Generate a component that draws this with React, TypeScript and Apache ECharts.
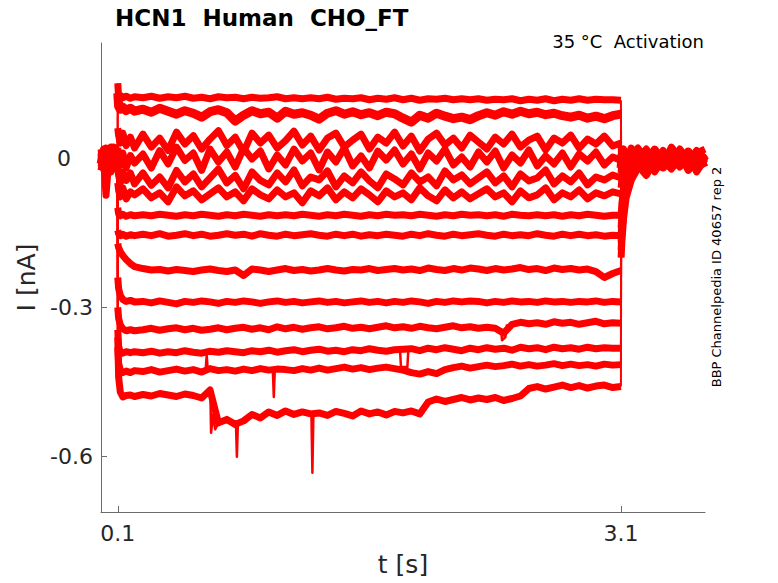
import React, { useEffect, useRef } from "react";
import * as echarts from "echarts";

// time base (s)
const T = [
  0, 0.015, 0.03, 0.045, 0.06, 0.075, 0.09, 0.099,
  0.1, 0.105, 0.115, 0.13, 0.15, 0.175, 0.2,
  0.25, 0.3, 0.35, 0.4, 0.45, 0.5, 0.55, 0.6, 0.65, 0.7, 0.75,
  0.8, 0.85, 0.9, 0.95, 1.0, 1.05, 1.1, 1.15, 1.2, 1.25,
  1.3, 1.35, 1.4, 1.45, 1.5, 1.55, 1.6, 1.65, 1.7, 1.75,
  1.8, 1.85, 1.9, 1.95, 2.0, 2.05, 2.1, 2.15, 2.2, 2.25,
  2.3, 2.35, 2.4, 2.45, 2.5, 2.55, 2.6, 2.65, 2.7, 2.75,
  2.8, 2.85, 2.9, 2.95, 3.0, 3.05,
  3.099,
  3.1, 3.105, 3.115, 3.13, 3.16, 3.2, 3.25, 3.3, 3.35, 3.4, 3.45, 3.5, 3.55, 3.6,
];
// indices in T where the voltage step switches on / off
const stepOnIndex = 8;
const stepOffIndex = 73;

// currents in pA (one value per entry of T)
const traceA = [
  5, -10, 15, -5, 20, 0, -15, 10,
  150, 122, 126, 121, 124, 120, 123,
  121, 124, 120, 123, 121, 124, 120, 122, 119, 123, 121,
  122, 119, 122, 120, 121, 123, 119, 121, 119, 121,
  119, 122, 118, 120, 119, 121, 117, 120, 118, 121,
  117, 120, 116, 119, 118, 120, 117, 119, 117, 119,
  116, 118, 117, 119, 115, 118, 116, 119, 115, 118,
  116, 119, 116, 118, 117, 117,
  116,
  10, -5, 12, -8, 15, 0, 18, -10, 8, -15, 14, -5, 10, 0,
];
const traceB = [
  -12, 8, -20, 5, -8, 15, -3, -10,
  130, 104, 98, 102, 95, 100, 94,
  98, 92, 100, 94, 88, 95, 90, 82, 93, 97, 91,
  74, 86, 95, 89, 92, 80, 94, 88, 91, 86,
  78, 90, 95, 88, 93, 87, 91, 85, 92, 89,
  80, 72, 86, 80, 90, 84, 79, 82, 77, 85,
  91, 86, 93, 88, 94, 89, 92, 87, 90, 85,
  82, 86, 80, 84, 79, 85,
  88,
  -20, 5, -12, 10, -25, 8, -5, 15, -18, 3, -10, 12, -22, 5,
];
const traceC = [
  18, -5, 10, -15, 22, 3, -8, 12,
  60, 45, 30, 50, 25, 42, 20,
  48, 22, 40, 15, 52, 28, 45, 18, 38, 55, 25,
  42, 12, 50, 30, 46, 20, 35, 54, 26, 44,
  16, 40, 50, 22, 36, 48, 18, 42, 30, 52,
  24, 44, 14, 38, 50, 26, 40, 20, 46, 32,
  18, 42, 28, 48, 22, 36, 44, 16, 40, 30,
  46, 20, 38, 28, 44, 24,
  30,
  25, -10, 18, -20, 8, 20, -5, 15, -12, 22, 0, -15, 10, 18,
];
const traceD = [
  -8, 15, -20, 8, -12, 20, 5, -18,
  20, 5, -15, 10, -20, 5, -10,
  8, -20, 15, -12, 22, -5, 10, -25, 18, -8, 12,
  -18, 20, -2, 14, -22, 6, -14, 18, -6, 10,
  -24, 12, -8, 20, -16, 4, -20, 14, -4, 16,
  -12, 8, -22, 10, -6, 18, -14, 2, -18, 12,
  -8, 14, -20, 6, -10, 16, -16, 4, -12, 10,
  -18, 8, -6, 12, -14, 2,
  -5,
  -15, 10, -25, 5, -10, 15, -20, 2, -8, 12, -18, 6, -12, 8,
];
const traceE = [
  3, -22, 10, -30, 0, -12, 15, -25,
  -20, -35, -50, -28, -45, -30, -52,
  -30, -55, -38, -60, -25, -48, -32, -58, -40, -22, -50,
  -35, -62, -28, -45, -54, -30, -48, -24, -56, -38,
  -44, -26, -58, -36, -50, -28, -46, -60, -32, -42,
  -54, -30, -48, -38, -56, -26, -44, -34, -52, -40,
  -28, -50, -36, -58, -32, -46, -40, -24, -52, -36,
  -48, -30, -54, -38, -44, -34,
  -40,
  -30, -5, -20, 10, -35, -10, 5, -28, -2, -15, 8, -25, -8, 3,
];
const traceF = [
  -25, 0, -75, -10, 10, -20, -5, 0,
  -50, -65, -78, -60, -82, -68, -74,
  -62, -80, -70, -88, -58, -76, -66, -84, -72, -60, -78,
  -68, -86, -62, -74, -82, -64, -78, -70, -90, -66,
  -76, -60, -84, -68, -80, -62, -74, -88, -66, -78,
  -70, -84, -60, -76, -86, -64, -80, -68, -82, -72,
  -62, -78, -70, -88, -66, -80, -74, -60, -84, -70,
  -78, -64, -82, -70, -76, -68,
  -72,
  -10, -30, 0, -22, 12, -15, -35, -5, 15, -20, -8, 10, -28, -2,
];
const traceG = [
  10, -15, 0, 18, -10, 5, -22, 8,
  -100, -112, -116, -113, -117, -114, -116,
  -114, -116, -113, -115, -117, -114, -116, -113, -115, -117, -114,
  -116, -113, -115, -117, -114, -116, -114, -116, -113, -115,
  -117, -114, -116, -113, -115, -117, -114, -116, -113, -115,
  -114, -116, -113, -115, -117, -114, -116, -113, -115, -114,
  -116, -114, -117, -113, -115, -116, -114, -116, -114, -117,
  -114, -116, -113, -115, -117, -115,
  -115,
  5, -20, 12, -8, 20, -15, 3, -25, 10, -5, 16, -12, 0, 8,
];
const traceH = [
  -18, 5, -10, 12, -28, -2, 8, -15,
  -145, -152, -156, -153, -157, -154, -156,
  -153, -156, -152, -157, -155, -152, -156, -153, -157, -155, -152,
  -155, -153, -157, -152, -155, -157, -153, -156, -154, -152,
  -155, -157, -153, -156, -153, -157, -154, -156, -153, -155,
  -157, -153, -156, -152, -155, -157, -153, -156, -154, -152,
  -155, -157, -153, -156, -154, -156, -152, -155, -157, -153,
  -156, -153, -156, -154, -157, -155,
  -156,
  -60, -40, -20, 5, -18, 8, -12, 18, -5, -22, 10, -8, 15, -18,
];
const traceI = [
  12, -6, 20, -12, 2, 15, -20, 5,
  -172, -180, -188, -196, -204, -212, -218,
  -222, -225, -224, -227, -224, -226, -228, -225, -223, -226, -228,
  -225, -236, -223, -225, -228, -225, -222, -226, -224, -227,
  -225, -222, -225, -227, -224, -225, -222, -226, -224, -222,
  -225, -223, -226, -221, -224, -226, -222, -225, -221, -223,
  -226, -222, -225, -223, -220, -224, -222, -226, -221, -224,
  -222, -225, -223, -228, -240, -232,
  -226,
  -115, -90, -62, -38, -15, 5, -18, 10, -6, 15, -12, 4, -20, 6,
];
const traceJ = [
  -5, 18, -14, 6, -25, 10, -2, 15,
  -240, -262, -276, -284, -288, -286, -289,
  -288, -291, -287, -290, -293, -288, -290, -287, -289, -292, -288,
  -290, -287, -289, -292, -289, -287, -290, -288, -291, -289,
  -287, -290, -288, -291, -289, -287, -290, -288, -291, -288,
  -290, -287, -289, -292, -288, -290, -287, -289, -287, -288,
  -291, -288, -290, -287, -289, -288, -290, -287, -289, -288,
  -290, -288, -289, -287, -290, -288,
  -289,
  -140, -112, -80, -48, -20, -2, 12, -15, 5, -10, 18, -6, 8, -4,
];
const traceK = [
  8, -12, 4, -22, 15, -8, 20, -4,
  -300, -322, -335, -343, -347, -345, -347,
  -345, -342, -346, -343, -341, -345, -342, -346, -344, -341, -345,
  -342, -340, -344, -341, -345, -339, -343, -340, -344, -341,
  -339, -343, -341, -338, -342, -340, -343, -340, -337, -341,
  -339, -342, -338, -341, -343, -340, -337, -341, -339, -342,
  -340, -342, -352, -334, -330, -333, -331, -334, -329, -332,
  -330, -334, -331, -328, -333, -331,
  -332,
  -155, -125, -88, -55, -25, -5, 10, -14, 6, -8, 16, -3, -12, 5,
];
const traceL = [
  15, -2, -18, 10, -6, 22, -12, 3,
  -345, -378, -390, -392, -389, -391, -389,
  -391, -388, -392, -389, -391, -387, -390, -392, -388, -390, -387,
  -389, -391, -387, -389, -386, -390, -387, -385, -389, -386,
  -384, -388, -386, -389, -385, -387, -383, -386, -388, -385,
  -384, -383, -387, -382, -385, -381, -384, -387, -382, -385,
  -381, -384, -382, -386, -380, -383, -381, -385, -380, -383,
  -381, -384, -380, -383, -381, -382,
  -382,
  -170, -140, -98, -62, -30, -8, 12, -5, 8, -16, 4, -10, 14, -2,
];
const traceM = [
  -12, 10, -4, 16, -20, 0, 12, -8,
  -380, -412, -426, -431, -428, -431, -427,
  -429, -425, -430, -427, -424, -428, -425, -430, -423, -427, -425,
  -428, -424, -427, -423, -426, -424, -425, -427, -423, -426,
  -422, -426, -423, -420, -424, -421, -425, -422, -420, -423,
  -426, -431, -434, -429, -433, -425, -421, -418, -422, -419,
  -416, -419, -417, -414, -418, -415, -418, -416, -413, -417,
  -414, -417, -415, -418, -414, -416,
  -415,
  -185, -150, -105, -70, -38, -12, 6, -10, 10, -4, 15, -15, 2, -8,
];
const traceN = [
  6, -16, 12, -2, 18, -14, 0, 10,
  -360, -440, -470, -480, -477, -476, -479,
  -475, -478, -473, -476, -479, -474, -477, -482, -466, -532, -525,
  -535, -528, -515, -522, -510, -517, -508, -515, -510, -514,
  -512, -517, -509, -513, -518, -508, -514, -510, -516, -509,
  -512, -508, -514, -490, -484, -489, -485, -481, -486, -482,
  -485, -481, -487, -483, -478, -463, -459, -464, -460, -456,
  -461, -457, -462, -458, -456, -461,
  -459,
  -200, -165, -120, -80, -45, -20, -5, 4, -16, 8, -6, 12, -20, 0,
];

const traces = [traceA, traceB, traceC, traceD, traceE, traceF, traceG, traceH, traceI, traceJ, traceK, traceL, traceM, traceN];
const traceWidths = [7, 9, 7, 7, 7, 7, 7, 7, 7, 7, 7, 7, 7, 7];

// narrow glitches on individual sweeps: [t (s), I (pA)]
const spikeN1 = [[0.652, -470], [0.656, -552], [0.668, -515], [0.68, -545], [0.7, -532]];
const spikeN2 = [[0.804, -530], [0.81, -600], [0.816, -532]];
const spikeN3 = [[1.254, -512], [1.26, -632], [1.266, -512]];
const spikeM1 = [[1.024, -425], [1.03, -480], [1.036, -425]];
const spikeM2 = [[0.624, -425], [0.63, -396], [0.636, -425]];
const spikeL1 = [[1.782, -384], [1.788, -420], [1.826, -420], [1.832, -384]];
const spikeK1 = [[2.384, -342], [2.39, -366], [2.41, -360], [2.42, -334]];
const spikes = [spikeN1, spikeN2, spikeN3, spikeM1, spikeM2, spikeL1, spikeK1];

const xTicks = [0.1, 3.1];
const yTicks = [-0.6, -0.3, 0];

const titleText = "HCN1  Human  CHO_FT";
const condText = "35 °C  Activation";
const idText = "BBP Channelpedia ID 40657 rep 2";

const FONT = "DejaVu Sans";
const RED = "#ff0000";

export default function App() {
  const ref = useRef<HTMLDivElement>(null);
  useEffect(() => {
    const chart = echarts.init(ref.current!, null, { renderer: "svg" });
    const sweepSeries = traces.map((tr, k) => {
      const data: any[] = [];
      T.forEach((t, i) => {
        if (i === stepOnIndex || i === stepOffIndex) data.push([t, "-"]);
        data.push([t, tr[i] / 1000]);
      });
      return {
        type: "line",
        name: "sweep" + k,
        data,
        connectNulls: false,
        showSymbol: false,
        symbol: "none",
        silent: true,
        lineStyle: { color: RED, width: traceWidths[k], join: "round", cap: "butt" },
        itemStyle: { color: RED },
        z: 2,
      };
    });
    // thin vertical jumps at step on / off, taken from the sweep values
    const jumpSeries: any[] = [];
    traces.forEach((tr, k) => {
      [stepOnIndex, stepOffIndex].forEach((idx) => {
        jumpSeries.push({
          type: "line",
          name: "jump" + k + "_" + idx,
          data: [
            [T[idx - 1], tr[idx - 1] / 1000],
            [T[idx], tr[idx] / 1000],
          ],
          showSymbol: false,
          symbol: "none",
          silent: true,
          lineStyle: { color: RED, width: 2 },
          z: 2,
        });
      });
    });
    const spikeSeries = spikes.map((sp, k) => ({
      type: "line",
      name: "glitch" + k,
      data: sp.map((p) => [p[0], p[1] / 1000]),
      showSymbol: false,
      symbol: "none",
      silent: true,
      lineStyle: { color: RED, width: 2.5, join: "round" },
      itemStyle: { color: RED },
      z: 3,
    }));
    chart.setOption({
      animation: false,
      backgroundColor: "#ffffff",
      grid: { left: 101, right: 73, top: 43, bottom: 71, containLabel: false },
      xAxis: {
        type: "value",
        min: 0,
        max: 3.6,
        name: "t [s]",
        nameLocation: "middle",
        nameGap: 40,
        nameTextStyle: { fontFamily: FONT, fontSize: 25, color: "#262626" },
        axisLine: { show: true, onZero: false, lineStyle: { color: "#6b6b6b", width: 1 } },
        axisTick: { show: true, inside: true, length: 6, customValues: xTicks, lineStyle: { color: "#6b6b6b" } },
        axisLabel: {
          customValues: xTicks,
          fontFamily: FONT,
          fontSize: 22,
          color: "#262626",
          margin: 10,
          formatter: (v: number) => String(v),
        },
        splitLine: { show: false },
      },
      yAxis: {
        type: "value",
        min: -0.711,
        max: 0.231,
        name: "I [nA]",
        nameLocation: "middle",
        nameGap: 58,
        nameTextStyle: { fontFamily: FONT, fontSize: 25, color: "#262626" },
        axisLine: { show: true, onZero: false, lineStyle: { color: "#6b6b6b", width: 1 } },
        axisTick: { show: true, inside: true, length: 6, customValues: yTicks, lineStyle: { color: "#6b6b6b" } },
        axisLabel: {
          customValues: yTicks,
          fontFamily: FONT,
          fontSize: 22,
          color: "#262626",
          margin: 8,
          formatter: (v: number) => (Math.abs(v) < 1e-9 ? "{z|0}" : String(v)),
          rich: {
            z: { fontFamily: FONT, fontSize: 22, color: "#262626", padding: [0, 22, 0, 0] },
          },
        },
        splitLine: { show: false },
      },
      graphic: [
        {
          type: "text",
          x: 115,
          y: 18,
          style: {
            text: titleText,
            fontFamily: FONT,
            fontSize: 23,
            fontWeight: "bold",
            fill: "#000000",
            textAlign: "left",
            textVerticalAlign: "middle",
          },
        },
        {
          type: "text",
          x: 704,
          y: 41,
          style: {
            text: condText,
            fontFamily: FONT,
            fontSize: 18,
            fill: "#000000",
            textAlign: "right",
            textVerticalAlign: "middle",
          },
        },
        {
          type: "text",
          x: 716,
          y: 277,
          rotation: Math.PI / 2,
          style: {
            text: idText,
            fontFamily: FONT,
            fontSize: 13,
            fill: "#000000",
            textAlign: "center",
            textVerticalAlign: "middle",
          },
        },
      ],
      series: [...sweepSeries, ...jumpSeries, ...spikeSeries],
    });
    return () => chart.dispose();
  }, []);
  return (
    <div
      ref={ref}
      style={{ position: "fixed", left: 0, top: 0, width: 778, height: 583, background: "#fff" }}
    />
  );
}
